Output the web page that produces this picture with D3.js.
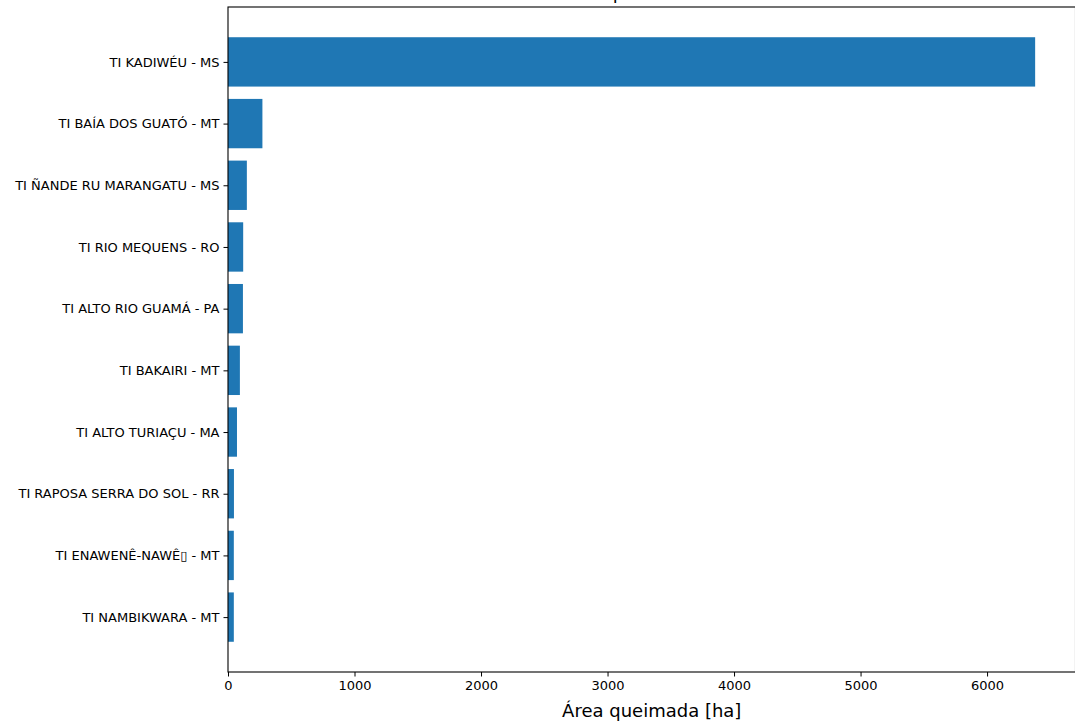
<!DOCTYPE html>
<html>
<head>
<meta charset="utf-8">
<script src="https://cdn.jsdelivr.net/npm/d3@7"></script>
<style>
  body { margin: 0; background: #fff; }
  text { font-family: "DejaVu Sans", sans-serif; }
</style>
</head>
<body>
<div id="chart"></div>
<script>
// Data
var terras = [
  "TI KADIWÉU - MS",
  "TI BAÍA DOS GUATÓ - MT",
  "TI ÑANDE RU MARANGATU - MS",
  "TI RIO MEQUENS - RO",
  "TI ALTO RIO GUAMÁ - PA",
  "TI BAKAIRI - MT",
  "TI ALTO TURIAÇU - MA",
  "TI RAPOSA SERRA DO SOL - RR",
  "TI ENAWENÊ-NAWÊ\u25AF - MT",
  "TI NAMBIKWARA - MT"
];
var areaQueimada = [6380, 272, 149, 120, 118, 94, 71, 47, 46, 46];
var xTicks = [0, 1000, 2000, 3000, 4000, 5000, 6000];

var width = 1075, height = 724;
var margin = { top: 7, left: 228, bottom: 52 };
var plotRight = 1075.5;

var svg = d3.select("#chart").append("svg")
  .attr("width", width)
  .attr("height", height);

// x scale with matplotlib-like 5% margin on the max
var xMax = d3.max(areaQueimada) * 1.05;
var x = d3.scaleLinear()
  .domain([0, xMax])
  .range([margin.left, plotRight]);

// y as a linear scale over category index (first item on top)
var y = d3.scaleLinear()
  .domain([-0.89, 9.89])
  .range([margin.top, height - margin.bottom]);

var barH = Math.abs(y(0.4) - y(-0.4));

// title: sits above the top of the picture, only a descender shows
svg.append("text")
  .attr("x", 651)
  .attr("y", -1.5)
  .attr("text-anchor", "middle")
  .style("font-size", "18px")
  .text("Maiores queimadas em TIs");

// bars
svg.append("g").selectAll("rect")
  .data(areaQueimada)
  .enter()
  .append("rect")
    .attr("x", x(0))
    .attr("y", function(d, i) { return y(i) - barH / 2; })
    .attr("width", function(d) { return x(d) - x(0); })
    .attr("height", barH)
    .style("fill", "#1f77b4");

// x axis
var xAxis = svg.append("g")
  .attr("transform", "translate(0," + y(9.89) + ")")
  .call(d3.axisBottom(x).tickValues(xTicks).tickFormat(d3.format("d")).tickSizeOuter(0).tickSize(4.5).tickPadding(4));

// y axis
var yAxis = svg.append("g")
  .attr("transform", "translate(" + x(0) + ",0)")
  .call(d3.axisLeft(y).tickValues(d3.range(terras.length))
    .tickFormat(function(i) { return terras[i]; })
    .tickSizeOuter(0).tickSize(4.5).tickPadding(4));

[xAxis, yAxis].forEach(function(a) {
  a.select(".domain").remove();
  a.selectAll("text").style("font-size", "13px").style("fill", "#000")
    .style("font-family", "'DejaVu Sans', sans-serif");
  a.selectAll("line").style("stroke", "#000").style("stroke-width", 1);
});

// spines
var frame = svg.append("g").style("stroke", "#000").style("stroke-width", 1.1).style("fill", "none");
frame.append("rect")
  .attr("x", x(0))
  .attr("y", y(-0.89))
  .attr("width", x(xMax) - x(0))
  .attr("height", y(9.89) - y(-0.89));

// x label
svg.append("text")
  .attr("x", (x(0) + x(xMax)) / 2)
  .attr("y", 717)
  .attr("text-anchor", "middle")
  .style("font-size", "18px")
  .text("Área queimada [ha]");
</script>
</body>
</html>
